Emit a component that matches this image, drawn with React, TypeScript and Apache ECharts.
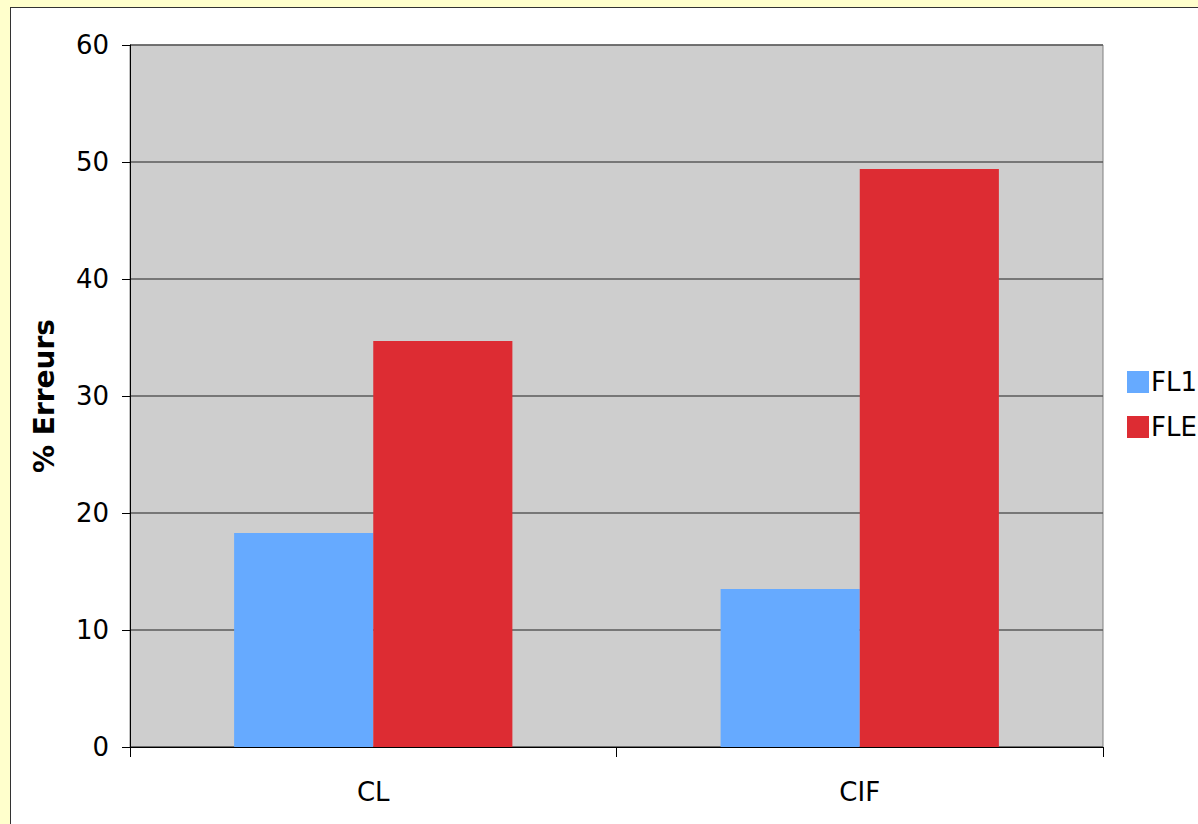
import React, { useEffect, useRef } from "react";
import * as echarts from "echarts";

const categories = ["CL", "CIF"];
const seriesNames = ["FL1", "FLE"];
const fl1Values = [18.3, 13.5];
const fleValues = [34.7, 49.4];
const yTicks = { min: 0, max: 60, interval: 10 };

export default function App() {
  const ref = useRef<HTMLDivElement>(null);
  useEffect(() => {
    const chart = echarts.init(ref.current!, null, { renderer: "svg" });
    const font = "'DejaVu Sans', Verdana, sans-serif";
    chart.setOption({
      animation: false,
      textStyle: { fontFamily: font },
      grid: {
        left: 130,
        right: 95,
        top: 45,
        bottom: 77,
        show: true,
        backgroundColor: "#CECECE",
        borderColor: "#808080",
        borderWidth: 1,
      },
      legend: {
        orient: "vertical",
        left: 1122,
        top: 364,
        itemWidth: 22,
        itemHeight: 22,
        itemGap: 19,
        icon: "rect",
        textStyle: { fontFamily: font, fontSize: 26, color: "#000", padding: [0, 0, 0, -3] },
        data: seriesNames,
      },
      xAxis: {
        type: "category",
        data: categories,
        axisLine: { lineStyle: { color: "#000", width: 1 } },
        axisTick: { show: true, length: 10, lineStyle: { color: "#000" } },
        axisLabel: { fontFamily: font, fontSize: 26, color: "#000", margin: 32 },
      },
      yAxis: {
        type: "value",
        min: yTicks.min,
        max: yTicks.max,
        interval: yTicks.interval,
        name: "% Erreurs",
        nameLocation: "middle",
        nameRotate: 90,
        nameGap: 72,
        nameTextStyle: { fontFamily: font, fontSize: 28, fontWeight: "bold", color: "#000" },
        axisLine: { show: true, lineStyle: { color: "#000", width: 1 } },
        axisTick: { show: true, length: 8, lineStyle: { color: "#000" } },
        axisLabel: { fontFamily: font, fontSize: 26, color: "#000", margin: 21 },
        splitLine: { show: true, lineStyle: { color: "#5A5A5A", width: 1.5 } },
      },
      series: [
        {
          name: seriesNames[0],
          type: "bar",
          data: fl1Values,
          itemStyle: { color: "#66AAFF" },
          barGap: "0%",
          barCategoryGap: "42.8%",
        },
        {
          name: seriesNames[1],
          type: "bar",
          data: fleValues,
          itemStyle: { color: "#DD2C33" },
          barGap: "0%",
          barCategoryGap: "42.8%",
        },
      ],
    });
    return () => chart.dispose();
  }, []);
  return (
    <div
      style={{
        position: "fixed",
        left: 0,
        top: 0,
        width: 1198,
        height: 824,
        background: "#FFFFCC",
        overflow: "hidden",
      }}
    >
      <div
        style={{
          position: "absolute",
          left: 10,
          top: 7,
          width: 1210,
          height: 840,
          background: "#FFFFFF",
          border: "1.5px solid #333",
        }}
      />
      <div ref={ref} style={{ position: "absolute", left: 0, top: 0, width: 1198, height: 824 }} />
    </div>
  );
}
